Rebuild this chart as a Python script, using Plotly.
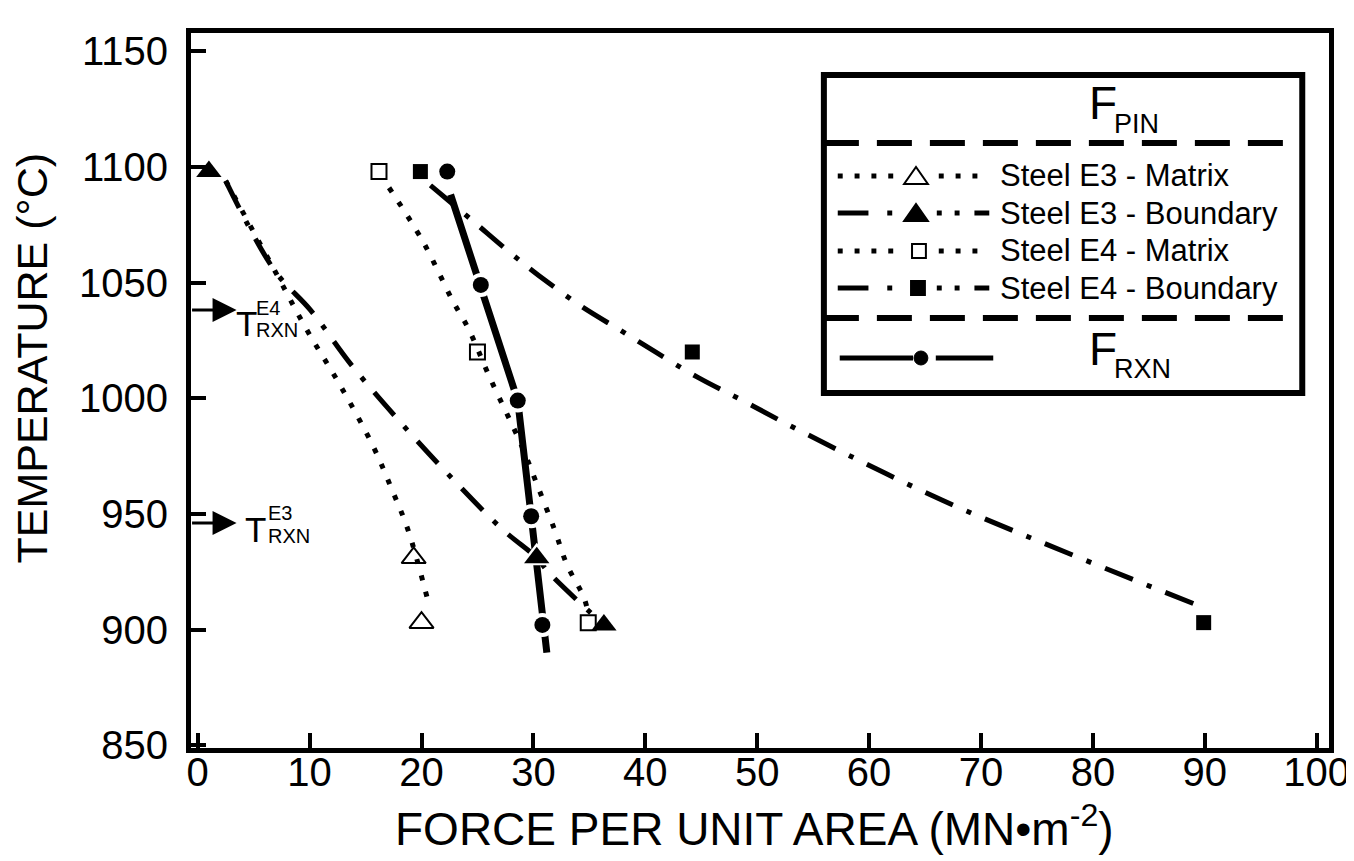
import plotly.graph_objects as go

# ---------------- data ----------------
# markers: temperature (deg C) vs force per unit area (MN m^-2)
e3_matrix_F = [19.3, 20.0]
e3_matrix_T = [931, 903]
e3_boundary_F = [1.0, 30.3, 36.3]
e3_boundary_T = [1098, 931, 902]
e4_matrix_F = [16.2, 25.0, 34.9]
e4_matrix_T = [1098, 1020, 903]
e4_boundary_F = [19.9, 44.2, 89.9]
e4_boundary_T = [1098, 1020, 903]
f_rxn_F = [22.3, 25.3, 28.6, 29.8, 30.8]
f_rxn_T = [1098, 1049, 999, 949, 902]

# fitted curves
e3_matrix_curve_F = [2.5, 6.9, 9.7, 12.8, 15.7, 17.4, 18.8, 20.6]
e3_matrix_curve_T = [1094, 1055, 1030, 1005, 979, 960, 943, 912]
e3_boundary_curve_F = [2.5, 6.9, 10.1, 13.8, 18.6, 23.0, 27.3, 30.3, 31.4, 36.3]
e3_boundary_curve_T = [1094, 1055, 1038, 1014, 987, 964, 943, 931, 924.5, 902]
e4_matrix_curve_F = [17.1, 20.1, 22.8, 24.2, 26.1, 28.9, 30.3, 31.9, 33.0, 34.5, 34.9]
e4_matrix_curve_T = [1091, 1068, 1042, 1030, 1009, 980, 963, 943, 928, 914, 907]
e4_boundary_curve_F = [20.8, 24.5, 27.9, 30.5, 34.2, 37.9, 40.9, 44.7, 48.7, 53.8, 66.5, 77.8, 89.1]
e4_boundary_curve_T = [1092, 1077, 1063, 1053, 1040, 1029, 1020, 1009, 999, 986, 956, 933, 911]
f_rxn_curve_F = [22.6, 25.3, 28.6, 29.8, 30.8, 31.2]
f_rxn_curve_T = [1088, 1049, 999, 949, 902, 890]

x_ticks = [0, 10, 20, 30, 40, 50, 60, 70, 80, 90, 100]
y_ticks = [850, 900, 950, 1000, 1050, 1100, 1150]

legend_rows = ["Steel E3 - Matrix", "Steel E3 - Boundary", "Steel E4 - Matrix", "Steel E4 - Boundary"]

# ---------------- layout helpers ----------------
W, H = 1354, 861
PL, PR, PT, PB = 183, 1332, 25, 740
FONT = "Liberation Sans, Arial, sans-serif"


def px(x):
    return (x - PL) / (PR - PL)


def py(y):
    return (PB - y) / (PB - PT)


DOT = "5px,12px"
DASHDOT = "30px,15px,5px,15px"

fig = go.Figure()

# curves
curves = [
    (e3_matrix_curve_F, e3_matrix_curve_T, 5, DOT, "spline"),
    (e3_boundary_curve_F, e3_boundary_curve_T, 5, DASHDOT, "spline"),
    (e4_matrix_curve_F, e4_matrix_curve_T, 5, DOT, "spline"),
    (e4_boundary_curve_F, e4_boundary_curve_T, 5, DASHDOT, "spline"),
    (f_rxn_curve_F, f_rxn_curve_T, 7, "solid", "linear"),
]
for xs, ys, w, d, shp in curves:
    fig.add_trace(go.Scatter(x=xs, y=ys, mode="lines",
                             line=dict(color="black", width=w, dash=d, shape=shp, smoothing=1.0),
                             showlegend=False, hoverinfo="skip"))

# white halos around the filled markers (gaps in the lines)
for xs, ys, sym, s in [(e3_boundary_F, e3_boundary_T, "triangle-up", 30),
                       (e4_boundary_F, e4_boundary_T, "square", 24),
                       (f_rxn_F, f_rxn_T, "circle", 24)]:
    fig.add_trace(go.Scatter(x=xs, y=ys, mode="markers",
                             marker=dict(symbol=sym, size=s, color="white"),
                             showlegend=False, hoverinfo="skip"))

# markers
markers = [
    (e3_matrix_F, e3_matrix_T, "triangle-up-open", 21, 2),
    (e3_boundary_F, e3_boundary_T, "triangle-up", 22, 0),
    (e4_matrix_F, e4_matrix_T, "square-open", 15, 2),
    (e4_boundary_F, e4_boundary_T, "square", 15, 0),
    (f_rxn_F, f_rxn_T, "circle", 16, 0),
]
for xs, ys, sym, s, lw in markers:
    fig.add_trace(go.Scatter(x=xs, y=ys, mode="markers",
                             marker=dict(symbol=sym, size=s, color="black",
                                         line=dict(color="black", width=lw)),
                             showlegend=False, hoverinfo="skip"))

# ---------------- custom legend box ----------------
LX0, LX1, LY0, LY1 = 822, 1305, 67, 385
shapes = [
    dict(type="rect", xref="paper", yref="paper", x0=px(LX0), x1=px(LX1), y0=py(LY1), y1=py(LY0),
         line=dict(color="black", width=6), fillcolor="white", layer="below"),
]
for yy in [135, 310]:
    shapes.append(dict(type="line", xref="paper", yref="paper", x0=px(LX0), x1=px(LX1), y0=py(yy), y1=py(yy),
                       line=dict(color="black", width=6, dash="35px,18px")))


def hseg(x0, x1, y, w=5, dash="solid"):
    return dict(type="line", xref="paper", yref="paper", x0=px(x0), x1=px(x1), y0=py(y), y1=py(y),
                line=dict(color="black", width=w, dash=dash))


def tri(cx, cy, filled):
    path = "M {:.5f},{:.5f} L {:.5f},{:.5f} L {:.5f},{:.5f} Z".format(
        px(cx - 12), py(cy + 8), px(cx + 12), py(cy + 8), px(cx), py(cy - 9))
    return dict(type="path", xref="paper", yref="paper", path=path,
                fillcolor="black" if filled else "white", line=dict(color="black", width=2))


def sq(cx, cy, half, filled):
    return dict(type="rect", xref="paper", yref="paper", x0=px(cx - half), x1=px(cx + half),
                y0=py(cy + half), y1=py(cy - half),
                fillcolor="black" if filled else "white", line=dict(color="black", width=2))


row_y = [168, 205, 243, 280]
row_kind = ["dot", "dashdot", "dot", "dashdot"]
for ry, kind in zip(row_y, row_kind):
    if kind == "dot":
        for dx in [836, 853, 870, 887, 938, 955, 972]:
            shapes.append(hseg(dx, dx + 5, ry))
    else:
        shapes.append(hseg(836, 867, ry))
        for dx in [886, 936, 954]:
            shapes.append(hseg(dx, dx + 5, ry))
        shapes.append(hseg(974, 989, ry))
# legend sample markers
shapes.append(tri(915, row_y[0], False))
shapes.append(tri(915, row_y[1], True))
shapes.append(sq(918, row_y[2], 7, False))
shapes.append(sq(917, row_y[3], 7, True))
# F_RXN sample
shapes.append(hseg(838, 912, 350, w=5))
shapes.append(hseg(935, 993, 350, w=5))
shapes.append(dict(type="circle", xref="paper", yref="paper", x0=px(913), x1=px(927), y0=py(357), y1=py(343),
                   fillcolor="black", line=dict(color="black", width=1)))

annotations = []
for txt, ry in zip(legend_rows, row_y):
    annotations.append(dict(xref="paper", yref="paper", x=px(998), y=py(ry), text=txt, showarrow=False,
                            xanchor="left", yanchor="middle", font=dict(family=FONT, size=31, color="black")))
# F_PIN / F_RXN labels
for fy, sub, sy in [(95, "PIN", 116), (341, "RXN", 361)]:
    annotations.append(dict(xref="paper", yref="paper", x=px(1088), y=py(fy), text="F", showarrow=False,
                            xanchor="left", yanchor="middle", font=dict(family=FONT, size=46, color="black")))
    annotations.append(dict(xref="paper", yref="paper", x=px(1113), y=py(sy), text=sub, showarrow=False,
                            xanchor="left", yanchor="middle", font=dict(family=FONT, size=27, color="black")))

# T_RXN arrows and labels
for ay_, tx, ty, sup, sx, suy, sby in [(302, 226, 315, "E4", 247, 300, 322), (515, 235, 521, "E3", 259, 505, 528)]:
    annotations.append(dict(xref="paper", yref="paper", x=px(229), y=py(ay_), ax=-46, ay=0, text="",
                            showarrow=True, arrowhead=2, arrowsize=1.6, arrowwidth=3, arrowcolor="black"))
    annotations.append(dict(xref="paper", yref="paper", x=px(tx), y=py(ty), text="T", showarrow=False,
                            xanchor="left", yanchor="middle", font=dict(family=FONT, size=35, color="black")))
    annotations.append(dict(xref="paper", yref="paper", x=px(sx), y=py(suy), text=sup, showarrow=False,
                            xanchor="left", yanchor="middle", font=dict(family=FONT, size=20, color="black")))
    annotations.append(dict(xref="paper", yref="paper", x=px(sx), y=py(sby), text="RXN", showarrow=False,
                            xanchor="left", yanchor="middle", font=dict(family=FONT, size=20, color="black")))

# axis titles
annotations.append(dict(xref="paper", yref="paper", x=px(752), y=py(818), text="FORCE PER UNIT AREA (MN\u2022m<sup>-2</sup>)",
                        showarrow=False, xanchor="center", yanchor="middle",
                        font=dict(family=FONT, size=46, color="black")))
annotations.append(dict(xref="paper", yref="paper", x=px(22), y=py(350), text="TEMPERATURE (\u00b0C)",
                        showarrow=False, xanchor="center", yanchor="middle", textangle=-90,
                        font=dict(family=FONT, size=43, color="black")))

fig.update_layout(
    width=W, height=H,
    margin=dict(l=PL, r=W - PR, t=PT, b=H - PB),
    paper_bgcolor="white", plot_bgcolor="white",
    showlegend=False,
    font=dict(family=FONT, color="black"),
    xaxis=dict(range=[-0.6, 101.1], tickvals=x_ticks, ticktext=[str(v) for v in x_ticks],
               showgrid=False, zeroline=False, showline=True, linecolor="black", linewidth=5, mirror=True,
               ticks="inside", ticklen=15, tickwidth=4, tickcolor="black",
               tickfont=dict(family=FONT, size=40, color="black"), ticklabelstandoff=-15),
    yaxis=dict(range=[848.8, 1157.9], tickvals=y_ticks, ticktext=[str(v) for v in y_ticks],
               showgrid=False, zeroline=False, showline=True, linecolor="black", linewidth=5, mirror=True,
               ticks="inside", ticklen=15, tickwidth=4, tickcolor="black",
               tickfont=dict(family=FONT, size=40, color="black"), ticklabelstandoff=10),
    shapes=shapes,
    annotations=annotations,
)

fig.write_html("out.html")
